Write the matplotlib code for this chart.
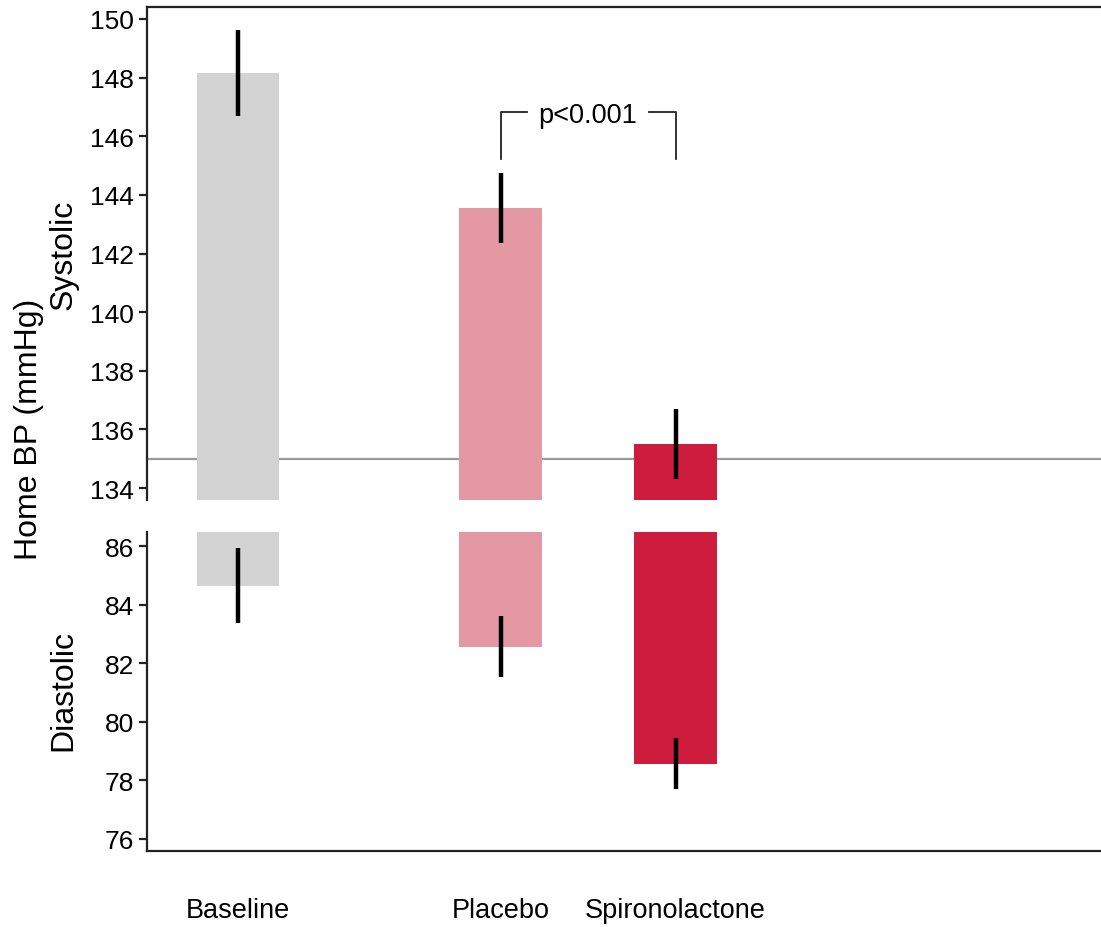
import matplotlib.pyplot as plt
import numpy as np

plt.rcParams['font.family'] = ['Liberation Sans', 'DejaVu Sans']

groups = ['Baseline', 'Placebo', 'Spironolactone']
xpos = [1, 2.5, 3.5]
colors = ['#d3d3d3', '#e498a4', '#ce1c3e']

sys_mean = [148.15, 143.55, 135.5]
sys_err = [1.47, 1.18, 1.2]
dia_mean = [84.65, 82.57, 78.57]
dia_err = [1.27, 1.03, 0.88]

sys_lim = (133.59, 150.41)
dia_lim = (75.59, 86.48)

fig = plt.figure(figsize=(11.01, 9.28), dpi=100)
ax1 = fig.add_axes([0.1335, 0.4601, 0.8665, 0.5313])
ax2 = fig.add_axes([0.1335, 0.0819, 0.8665, 0.3437])

width = 0.474
xlim = (0.48, 5.93)

# systolic bars rise from the bottom of the upper panel
ax1.axhline(135, color='#999999', lw=1.6, zorder=1)
sys_h = [m - sys_lim[0] for m in sys_mean]
ax1.bar(xpos, sys_h, bottom=sys_lim[0], width=width, color=colors, zorder=2)
ax1.errorbar(xpos, sys_mean, yerr=sys_err, fmt='none', ecolor='black',
             elinewidth=3.2, capsize=0, zorder=3)
ax1.set_ylim(*sys_lim)
ax1.set_xlim(*xlim)
ax1.set_yticks(np.arange(134, 151, 2))
ax1.set_xticks([])
for s in ['bottom', 'right']:
    ax1.spines[s].set_visible(False)

# diastolic bars hang from the top of the lower panel
dia_h = [dia_lim[1] - m for m in dia_mean]
ax2.bar(xpos, [-h for h in dia_h], bottom=dia_lim[1], width=width, color=colors, zorder=2)
ax2.errorbar(xpos, dia_mean, yerr=dia_err, fmt='none', ecolor='black',
             elinewidth=3.2, capsize=0, zorder=3)
ax2.set_ylim(*dia_lim)
ax2.set_xlim(*xlim)
ax2.set_yticks(np.arange(76, 87, 2))
ax2.set_xticks(xpos)
ax2.set_xticklabels(groups, fontsize=19.5)
ax2.tick_params(axis='x', length=0, pad=33)
for s in ['top', 'right']:
    ax2.spines[s].set_visible(False)

for ax in (ax1, ax2):
    for s in ax.spines.values():
        s.set_linewidth(1.6)
        s.set_color('#222222')
    ax.tick_params(axis='y', labelsize=19, length=6, width=1.6, color='#222222')

# significance bracket between placebo and spironolactone
yb, yt = 145.22, 146.83
ax1.plot([2.5, 2.5, 2.65], [yb, yt, yt], color='#222222', lw=1.3, clip_on=False)
ax1.plot([3.35, 3.5, 3.5], [yt, yt, yb], color='#222222', lw=1.3, clip_on=False)
ax1.text(3.0, yt - 0.1, 'p<0.001', ha='center', va='center', fontsize=19.5)

fig.text(0.026, 0.537, 'Home BP (mmHg)', rotation=90, ha='center', va='center',
         fontsize=23)
fig.text(0.058, 0.725, 'Systolic', rotation=90, ha='center', va='center',
         fontsize=23)
fig.text(0.058, 0.256, 'Diastolic', rotation=90, ha='center', va='center',
         fontsize=23)

fig.savefig('out.png', dpi=100)
